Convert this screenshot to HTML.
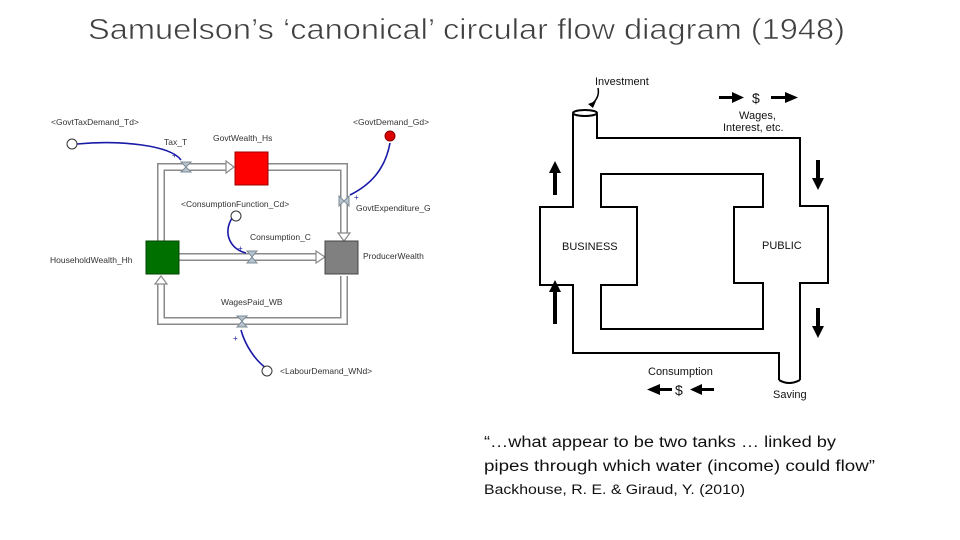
<!DOCTYPE html>
<html><head><meta charset="utf-8"><style>body{margin:0;background:#fff}svg{display:block}</style></head><body>
<svg width="960" height="540" viewBox="0 0 960 540" xmlns="http://www.w3.org/2000/svg" font-family="Liberation Sans, sans-serif">
<text x="88" y="39" font-size="29" fill="#404040" stroke="#fff" stroke-width="0.6" paint-order="normal" textLength="757" lengthAdjust="spacingAndGlyphs">Samuelson’s ‘canonical’ circular flow diagram (1948)</text>

<!-- Left stock-flow diagram -->
<g fill="none" stroke-linejoin="miter">
  <g stroke="#8a8a8a" stroke-width="8">
    <polyline points="161,241 161,167 228,167"/>
    <polyline points="268,167 344,167 344,234"/>
    <polyline points="179,257 318,257"/>
    <polyline points="344,276 344,321 161,321 161,283"/>
  </g>
  <g stroke="#fff" stroke-width="5">
    <polyline points="161,241 161,167 229,167"/>
    <polyline points="268,167 344,167 344,235"/>
    <polyline points="179,257 319,257"/>
    <polyline points="344,276 344,321 161,321 161,282"/>
  </g>
</g>
<g fill="#fff" stroke="#8a8a8a" stroke-width="1.2">
  <polygon points="226,161 234,167 226,173"/>
  <polygon points="338,233 344,241 350,233"/>
  <polygon points="316,251 325,257 316,263"/>
  <polygon points="155,284 161,276 167,284"/>
</g>
<g fill="#b7c4cf" stroke="#7d8b96" stroke-width="1">
  <polygon points="181,162 191,162 186,167"/><polygon points="181,172 191,172 186,167"/>
  <polygon points="339,196 339,206 344,201"/><polygon points="349,196 349,206 344,201"/>
  <polygon points="247,251 257,251 252,257"/><polygon points="247,263 257,263 252,257"/>
  <polygon points="237,316 247,316 242,321"/><polygon points="237,327 247,327 242,321"/>
</g>
<rect x="235" y="152" width="33" height="33" fill="#f00" stroke="#900" stroke-width="1"/>
<rect x="146" y="241" width="33" height="33" fill="#007000" stroke="#040" stroke-width="1"/>
<rect x="325" y="241" width="33" height="33" fill="#808080" stroke="#444" stroke-width="1"/>
<g fill="none" stroke="#1a1aa8" stroke-width="1.6">
  <path d="M77,144 C120,140 170,145 181,160"/>
  <path d="M390,143 C385,170 370,185 350,195"/>
  <path d="M232,218 C222,235 232,250 246,253"/>
  <path d="M266,368 C255,360 245,345 241,330"/>
</g>
<g fill="#fff" stroke="#333" stroke-width="1">
  <circle cx="72" cy="144" r="5"/>
  <circle cx="236" cy="216" r="5"/>
  <circle cx="267" cy="371" r="5"/>
</g>
<circle cx="390" cy="136" r="5" fill="#d00" stroke="#800"/>
<g font-size="8.5" fill="#333">
  <text x="51" y="125">&lt;GovtTaxDemand_Td&gt;</text>
  <text x="164" y="145">Tax_T</text>
  <text x="213" y="141">GovtWealth_Hs</text>
  <text x="353" y="125">&lt;GovtDemand_Gd&gt;</text>
  <text x="181" y="207">&lt;ConsumptionFunction_Cd&gt;</text>
  <text x="356" y="211">GovtExpenditure_G</text>
  <text x="250" y="240">Consumption_C</text>
  <text x="50" y="263">HouseholdWealth_Hh</text>
  <text x="363" y="259">ProducerWealth</text>
  <text x="221" y="305">WagesPaid_WB</text>
  <text x="280" y="374">&lt;LabourDemand_WNd&gt;</text>
</g>
<g font-size="8" fill="#1a1aa8">
  <text x="172" y="158">+</text><text x="354" y="200">+</text><text x="238" y="251">+</text><text x="233" y="341">+</text>
</g>

<!-- Right: Samuelson pipes -->
<g fill="none" stroke="#000" stroke-width="2" stroke-linejoin="miter">
  <polyline points="597,114 597,138 800,138 800,206 828,206 828,283 800,283 800,380"/>
  <polyline points="779,380 779,353 573,353 573,285 540,285 540,207 573,207 573,114"/>
  <polygon points="601,174 763,174 763,207 734,207 734,283 763,283 763,329 601,329 601,285 637,285 637,207 601,207"/>
  <ellipse cx="585" cy="113" rx="12" ry="3"/>
  <path d="M779,380 Q789,386 800,380"/>
  <path d="M598,88 Q600,97 592,104" stroke-width="1.5"/>
</g>
<polygon points="588,104 596,101 593,108" fill="#000"/>
<g fill="#000">
  <rect x="553" y="172" width="4" height="23"/><polygon points="549,173 555,161 561,173"/>
  <rect x="553" y="290" width="4" height="34"/><polygon points="549,292 555,280 561,292"/>
  <rect x="816" y="160" width="4" height="20"/><polygon points="812,178 818,190 824,178"/>
  <rect x="816" y="308" width="4" height="20"/><polygon points="812,326 818,338 824,326"/>
  <rect x="719" y="96" width="15" height="3"/><polygon points="732,92 744,97.5 732,103"/>
  <rect x="771" y="96" width="16" height="3"/><polygon points="785,92 798,97.5 785,103"/>
  <rect x="658" y="388" width="14" height="3"/><polygon points="660,384 647,389.5 660,395"/>
  <rect x="700" y="388" width="14" height="3"/><polygon points="702,384 690,389.5 702,395"/>
</g>
<g font-size="11" fill="#111">
  <text x="595" y="85">Investment</text>
  <text x="752" y="103" font-size="14">$</text>
  <text x="739" y="119">Wages,</text>
  <text x="723" y="131">Interest, etc.</text>
  <text x="562" y="250">BUSINESS</text>
  <text x="762" y="249">PUBLIC</text>
  <text x="648" y="375">Consumption</text>
  <text x="675" y="395" font-size="14">$</text>
  <text x="773" y="398">Saving</text>
</g>
<g font-size="15.5" fill="#111">
  <text x="484" y="447" textLength="352" lengthAdjust="spacingAndGlyphs">“…what appear to be two tanks … linked by</text>
  <text x="484" y="471" textLength="391" lengthAdjust="spacingAndGlyphs">pipes through which water (income) could flow”</text>
  <text x="484" y="494" font-size="13.5" textLength="261" lengthAdjust="spacingAndGlyphs">Backhouse, R. E. &amp; Giraud, Y. (2010)</text>
</g>
</svg>
</body></html>
